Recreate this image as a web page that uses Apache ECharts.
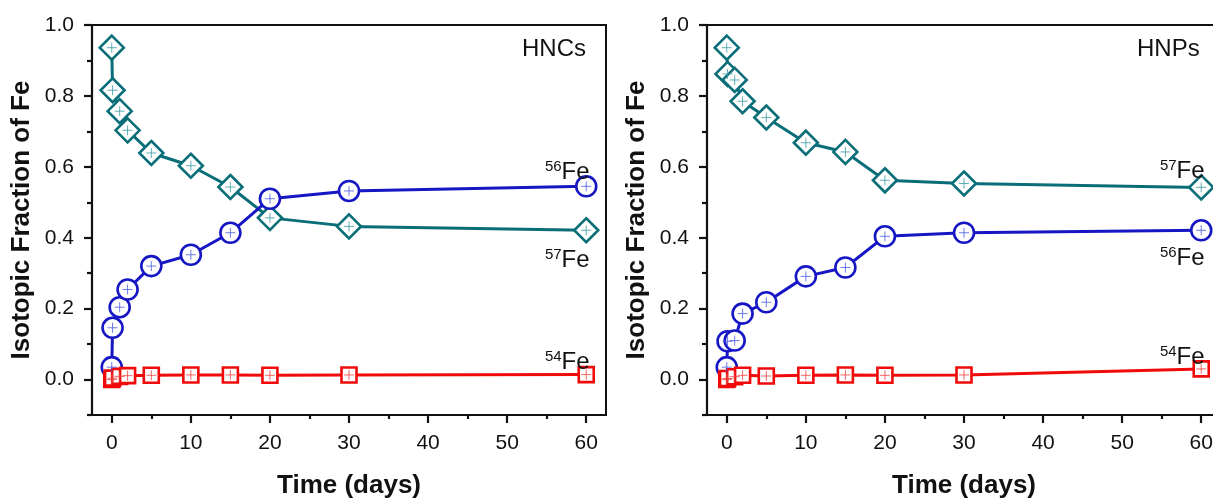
<!DOCTYPE html>
<html lang="en">
<head>
    <meta charset="UTF-8">
    <title>Isotopic Fraction of Fe</title>
    <script src="https://cdn.jsdelivr.net/npm/echarts@6.0.0/dist/echarts.min.js"></script>
    <style>
        html, body { margin: 0; padding: 0; background: #fff; }
        #chart { width: 1213px; height: 499px; }
    </style>
</head>
<body>
<div id="chart"></div>
<script type="text/javascript">
    // sampling times (days)
    var days = [0, 0.1, 1, 2, 5, 10, 15, 20, 30, 60];

    // HNCs panel
    var hnc57 = [0.936, 0.816, 0.757, 0.703, 0.639, 0.603, 0.543, 0.456, 0.432, 0.421];
    var hnc56 = [0.035, 0.146, 0.204, 0.254, 0.320, 0.352, 0.414, 0.510, 0.532, 0.545];
    var hnc54 = [0.000, 0.004, 0.009, 0.011, 0.012, 0.013, 0.013, 0.012, 0.013, 0.014];

    // HNPs panel
    var hnp57 = [0.936, 0.862, 0.845, 0.785, 0.739, 0.668, 0.642, 0.562, 0.553, 0.542];
    var hnp56 = [0.035, 0.108, 0.110, 0.186, 0.218, 0.291, 0.316, 0.404, 0.414, 0.421];
    var hnp54 = [0.000, 0.003, 0.008, 0.012, 0.010, 0.012, 0.013, 0.012, 0.013, 0.030];

    // axis ticks
    var xMajor = [0, 10, 20, 30, 40, 50, 60];
    var xMinor = [5, 15, 25, 35, 45, 55];
    var yMajor = [0, 0.2, 0.4, 0.6, 0.8, 1.0];
    var yMinor = [-0.1, 0.1, 0.3, 0.5, 0.7, 0.9];

    var TEAL = '#0a6e78', BLUE = '#1616c4', RED = '#f00a0a';
    var FONT = 'Arial, "Liberation Sans", Helvetica, sans-serif';

    function pairs(vals, label) {
        var out = days.map(function (d, i) { return [d, vals[i]]; });
        if (label) {
            var last = out.length - 1;
            out[last] = { value: out[last], label: label };
        }
        return out;
    }

    function isoLabel(mass, pos) {
        return {
            show: true,
            position: pos,
            distance: 0,
            offset: [-19, pos === 'top' ? 10 : 4],
            color: '#111',
            formatter: '{s|' + mass + '}{f|Fe}',
            rich: {
                s: { fontSize: 15, fontFamily: FONT, lineHeight: 16, verticalAlign: 'top', color: '#111' },
                f: { fontSize: 24, fontFamily: FONT, lineHeight: 26, color: '#111' }
            }
        };
    }

    function lineSeries(xi, vals, color, symbol, size, label) {
        return {
            type: 'line',
            xAxisIndex: xi,
            yAxisIndex: xi,
            data: pairs(vals, label),
            symbol: symbol,
            symbolSize: size,
            lineStyle: { color: color, width: 3 },
            itemStyle: { color: '#fff', borderColor: color, borderWidth: 2.6 },
            emphasis: { disabled: true },
            z: 3
        };
    }

    // thin error-bar crosses inside the markers
    function crossSeries(xi, vals, color) {
        return {
            type: 'scatter',
            xAxisIndex: xi,
            yAxisIndex: xi,
            data: pairs(vals),
            symbol: 'path://M5,0 L5,10 M0,5 L10,5',
            symbolSize: 10,
            itemStyle: { color: 'transparent', borderColor: color, borderWidth: 1 },
            silent: true,
            z: 4
        };
    }

    function xAxes(grid) {
        var base = {
            gridIndex: grid, type: 'value', min: -2.5, max: 62.5, position: 'bottom',
            splitLine: { show: false }
        };
        return [
            Object.assign({}, base, {
                name: 'Time (days)',
                nameLocation: 'middle',
                nameGap: 58,
                nameTextStyle: { fontSize: 26, fontWeight: 'bold', color: '#111', fontFamily: FONT },
                axisLine: { show: true, onZero: false, lineStyle: { color: '#111', width: 2.2 } },
                axisTick: { show: true, length: 8, customValues: xMajor, lineStyle: { color: '#111', width: 2.2 } },
                axisLabel: { customValues: xMajor, margin: 18, fontSize: 21, color: '#111', fontFamily: FONT }
            }),
            Object.assign({}, base, {
                axisLine: { show: false, onZero: false },
                axisTick: { show: true, length: 4, customValues: xMinor, lineStyle: { color: '#111', width: 2.2 } },
                axisLabel: { show: false }
            })
        ];
    }

    function yAxes(grid) {
        var base = {
            gridIndex: grid, type: 'value', min: -0.1, max: 1.0, position: 'left',
            splitLine: { show: false }
        };
        return [
            Object.assign({}, base, {
                name: 'Isotopic Fraction of Fe',
                nameLocation: 'middle',
                nameGap: 57,
                nameRotate: 90,
                nameTextStyle: { fontSize: 26, fontWeight: 'bold', color: '#111', fontFamily: FONT },
                axisLine: { show: true, onZero: false, lineStyle: { color: '#111', width: 2.2 } },
                axisTick: { show: true, length: 8, customValues: yMajor, lineStyle: { color: '#111', width: 2.2 } },
                axisLabel: {
                    customValues: yMajor, margin: 18, fontSize: 21, color: '#111', fontFamily: FONT,
                    formatter: function (v) { return v.toFixed(1); }
                }
            }),
            Object.assign({}, base, {
                axisLine: { show: false, onZero: false },
                axisTick: { show: true, length: 5, customValues: yMinor, lineStyle: { color: '#111', width: 2.2 } },
                axisLabel: { show: false }
            })
        ];
    }

    var myChart = echarts.init(document.getElementById('chart'));
    var option = {
        backgroundColor: '#fff',
        animation: false,
        grid: [
            { left: 92, top: 25, width: 514, height: 390, outerBoundsMode: 'none', show: true, borderColor: '#111', borderWidth: 2, backgroundColor: 'transparent' },
            { left: 707, top: 25, width: 514, height: 390, outerBoundsMode: 'none', show: true, borderColor: '#111', borderWidth: 2, backgroundColor: 'transparent' }
        ],
        xAxis: xAxes(0).concat(xAxes(1)),
        yAxis: yAxes(0).concat(yAxes(1)),
        graphic: [
            { type: 'text', left: 522, top: 37, style: { text: 'HNCs', fontSize: 24, fontFamily: FONT, fill: '#111' } },
            { type: 'text', left: 1137, top: 37, style: { text: 'HNPs', fontSize: 24, fontFamily: FONT, fill: '#111' } }
        ],
        series: [
            lineSeries(0, hnc57, TEAL, 'diamond', 24, isoLabel(57, 'bottom')),
            lineSeries(0, hnc56, BLUE, 'circle', 20, isoLabel(56, 'top')),
            lineSeries(0, hnc54, RED, 'rect', 15, isoLabel(54, 'top')),
            crossSeries(0, hnc57, '#3b9aa2'),
            crossSeries(0, hnc56, '#4a5ae6'),
            crossSeries(0, hnc54, '#f04040'),

            lineSeries(2, hnp57, TEAL, 'diamond', 24, isoLabel(57, 'top')),
            lineSeries(2, hnp56, BLUE, 'circle', 20, isoLabel(56, 'bottom')),
            lineSeries(2, hnp54, RED, 'rect', 15, isoLabel(54, 'top')),
            crossSeries(2, hnp57, '#3b9aa2'),
            crossSeries(2, hnp56, '#4a5ae6'),
            crossSeries(2, hnp54, '#f04040')
        ]
    };
    myChart.setOption(option);
</script>
</body>
</html>
